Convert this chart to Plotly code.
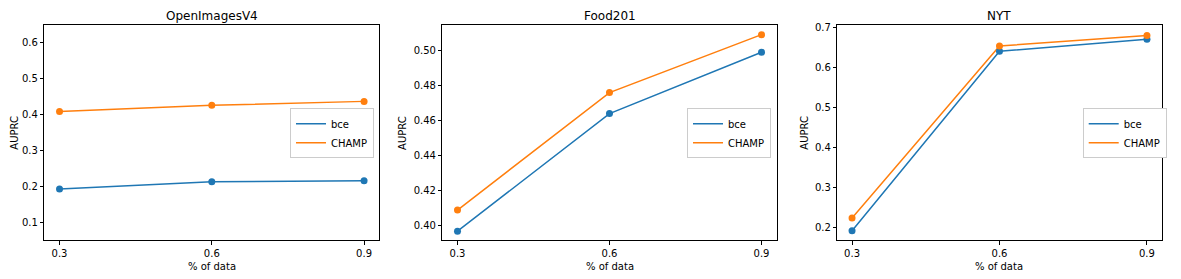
import plotly.graph_objects as go

# page is offset by the browser's default 8px body margin
OFF = 8
W, H = 1181 - OFF, 279 - OFF

x_vals = [0.3, 0.6, 0.9]
x_ticktext = ["0.3", "0.6", "0.9"]

titles = ["OpenImagesV4", "Food201", "NYT"]
series_names = ["bce", "CHAMP"]

openimages_bce = [0.193, 0.213, 0.216]
openimages_champ = [0.409, 0.426, 0.437]
food201_bce = [0.397, 0.464, 0.499]
food201_champ = [0.409, 0.476, 0.509]
nyt_bce = [0.193, 0.640, 0.670]
nyt_champ = [0.225, 0.653, 0.679]

y_ranges = [(0.05, 0.65), (0.3917, 0.5146), (0.169, 0.7057)]
y_ticks = [[0.1, 0.2, 0.3, 0.4, 0.5, 0.6],
           [0.40, 0.42, 0.44, 0.46, 0.48, 0.50],
           [0.2, 0.3, 0.4, 0.5, 0.6, 0.7]]
y_formats = [".1f", ".2f", ".1f"]

colors = ["#1f77b4", "#ff7f0e"]

# page-pixel geometry of the three axes boxes
boxes = [(44.3, 379.3), (442.3, 776.7), (837.3, 1161.7)]
box_top, box_bot = 22, 240
legend_right = [374.0, 771.0, 1166.7]
ylabel_x = [15.0, 402.3, 805.0]

data = [(openimages_bce, openimages_champ),
        (food201_bce, food201_champ),
        (nyt_bce, nyt_champ)]


def px(x):
    return (x - OFF) / W


def py(y):
    return (H - (y - OFF)) / H


fig = go.Figure()
font = "DejaVu Sans"
annotations = []
for i in range(3):
    xa = "x" if i == 0 else f"x{i+1}"
    ya = "y" if i == 0 else f"y{i+1}"
    leg = "legend" if i == 0 else f"legend{i+1}"
    for s in range(2):
        fig.add_trace(go.Scatter(x=x_vals, y=data[i][s], mode="lines", name=series_names[s],
                                 line=dict(color=colors[s], width=1.5),
                                 xaxis=xa, yaxis=ya, legend=leg, showlegend=True))
    for s in range(2):
        fig.add_trace(go.Scatter(x=x_vals, y=data[i][s], mode="markers", name=series_names[s],
                                 marker=dict(color=colors[s], size=7),
                                 xaxis=xa, yaxis=ya, showlegend=False))
    x0, x1 = boxes[i]
    axis_common = dict(showline=True, mirror=True, linecolor="black", linewidth=0.8,
                       ticks="outside", ticklen=3.5, tickwidth=0.8, tickcolor="black",
                       showgrid=False, zeroline=False,
                       tickfont=dict(family=font, size=10, color="black"))
    fig.layout[f"xaxis{'' if i == 0 else i+1}"] = dict(
        domain=[px(x0), px(x1)], anchor=ya, range=[0.27, 0.93],
        tickvals=x_vals, ticktext=x_ticktext, **axis_common)
    fig.layout[f"yaxis{'' if i == 0 else i+1}"] = dict(
        domain=[py(box_bot), py(box_top)], anchor=xa,
        range=list(y_ranges[i]), tickvals=y_ticks[i], tickformat=y_formats[i],
        **axis_common)
    fig.layout[leg] = dict(x=px(legend_right[i]), y=py(131.7),
                           xanchor="right", yanchor="middle",
                           bgcolor="white", bordercolor="#cccccc", borderwidth=1,
                           font=dict(family=font, size=10, color="black"),
                           itemwidth=30, tracegroupgap=0)
    cx = (x0 + x1) / 2
    annotations.append(dict(text=titles[i], x=px(cx), y=py(13.3), xref="paper", yref="paper",
                            showarrow=False, xanchor="center", yanchor="middle",
                            font=dict(family=font, size=12, color="black")))
    annotations.append(dict(text="% of data", x=px(cx), y=py(266.7), xref="paper", yref="paper",
                            showarrow=False, xanchor="center", yanchor="middle",
                            font=dict(family=font, size=10, color="black")))
    annotations.append(dict(text="AUPRC", x=px(ylabel_x[i]), y=py((box_top + box_bot) / 2),
                            xref="paper", yref="paper", textangle=-90,
                            showarrow=False, xanchor="center", yanchor="middle",
                            font=dict(family=font, size=10, color="black")))

fig.update_layout(width=W, height=H, margin=dict(l=0, r=0, t=0, b=0),
                  paper_bgcolor="white", plot_bgcolor="white",
                  annotations=annotations)

fig.write_html("out.html")
